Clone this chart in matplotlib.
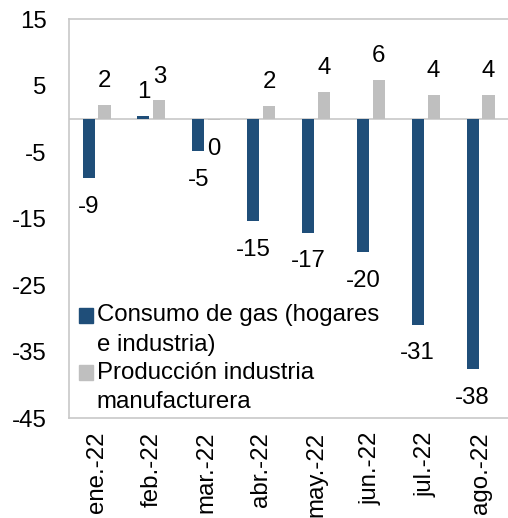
import numpy as np
import matplotlib
matplotlib.use('Agg')
import matplotlib.pyplot as plt
from matplotlib.patches import Rectangle
from matplotlib.legend_handler import HandlerPatch

# monthly variation (%)
months = ['ene.-22', 'feb.-22', 'mar.-22', 'abr.-22', 'may.-22', 'jun.-22', 'jul.-22', 'ago.-22']
gas = [-8.9, 0.5, -4.9, -15.4, -17.1, -20.1, -31.0, -37.7]
prod = [2.1, 2.8, -0.2, 2.0, 4.1, 5.9, 3.6, 3.6]
gas_labels = ['-9', '1', '-5', '-15', '-17', '-20', '-31', '-38']
prod_labels = ['2', '3', '0', '2', '4', '6', '4', '4']
series_names = ['Consumo de gas (hogares\ne industria)', 'Producción industria\nmanufacturera']

plt.rcParams['font.family'] = ['Liberation Sans', 'DejaVu Sans']
plt.rcParams['font.size'] = 17.3
plt.rcParams['axes.unicode_minus'] = False

blue = '#1F4E79'
grey = '#BFBFBF'
edge = '#C8C8C8'

#legend square sits on the first line of a two-line label, like Excel does
def top_square(legend, orig_handle, xdescent, ydescent, width, height, fontsize):
	return Rectangle((-xdescent, -ydescent + 10.5), width, height)

fig = plt.figure(figsize=(5.08, 5.18), dpi=100)
ax = fig.add_axes([0.136, 0.193, 0.864, 0.770])

x = np.arange(len(months))
w = 0.22
off = 0.145
ax.bar(x - off, gas, w, color=blue)
ax.bar(x + off, prod, w, color=grey)

#data labels outside the end of each bar
for xs, vals, labs in [(x - off, gas, gas_labels), (x + off, prod, prod_labels)]:
	for xi, v, t in zip(xs, vals, labs):
		dy = 17 if v >= 0 else -20.5
		ax.annotate(t, (xi, v), xytext=(0, dy), textcoords='offset points',
			ha='center', va='center')

ax.axhline(0, color=edge, lw=1.2, zorder=0)
ax.set_ylim(-45, 15)
ax.set_yticks([15, 5, -5, -15, -25, -35, -45])
ax.set_xlim(-0.5, len(months) - 0.5)
ax.set_xticks(x)
ax.set_xticklabels(months, rotation=90)
ax.tick_params(length=0)
ax.tick_params(axis='x', pad=10)
ax.tick_params(axis='y', pad=16)

for s in ['left', 'bottom', 'top']:
	ax.spines[s].set_color(edge)
	ax.spines[s].set_linewidth(1.2)
ax.spines['right'].set_visible(False)

proxies = [Rectangle((0, 0), 1, 1, color=blue), Rectangle((0, 0), 1, 1, color=grey)]
leg = ax.legend(proxies, series_names, loc='lower left', bbox_to_anchor=(0.0, -0.012),
	frameon=False, handlelength=0.6, handleheight=0.6, handletextpad=0.15,
	labelspacing=0.25, borderaxespad=0.0,
	handler_map={Rectangle: HandlerPatch(patch_func=top_square)})
for t in leg.get_texts():
	t.set_linespacing(1.45)

fig.savefig('out.png', dpi=100)
